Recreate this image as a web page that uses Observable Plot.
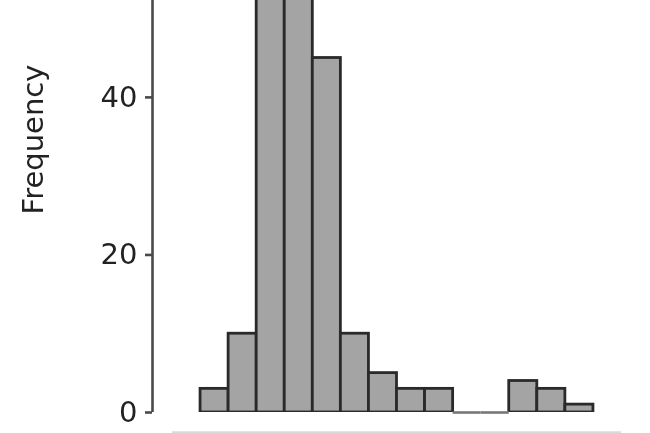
<!DOCTYPE html>
<html>
<head>
<meta charset="utf-8">
<script src="https://cdn.jsdelivr.net/npm/d3@7"></script>
<script src="https://cdn.jsdelivr.net/npm/@observablehq/plot@0.6"></script>
<style>
  html, body { margin: 0; padding: 0; background: #fff; }
  #chart svg { display: block; filter: blur(0.6px); }
</style>
</head>
<body>
<div id="chart"></div>
<script>
// Histogram bins (bin start, bin end) and frequency counts
const binStarts = [0, 1, 2, 3, 4, 5, 6, 7, 8, 9, 10, 11, 12, 13];
const binEnds   = [1, 2, 3, 4, 5, 6, 7, 8, 9, 10, 11, 12, 13, 14];
const counts    = [3, 10, 58, 56, 45, 10, 5, 3, 3, 0, 0, 4, 3, 1];
const yTicks = [0, 20, 40];
const xTicks = [-1, 3, 7, 11, 15];
const yLabel = "Frequency";

const bins = binStarts.map((s, i) => ({x1: s, x2: binEnds[i], count: counts[i]}));
const yTop = 52.3;

const chart = Plot.plot({
  width: 650,
  height: 433,
  marginLeft: 172,
  marginRight: 29,
  marginTop: 0,
  marginBottom: 21,
  style: {fontFamily: "'DejaVu Sans', sans-serif", background: "#fff", color: "#222"},
  x: {domain: [xTicks[0], xTicks[xTicks.length - 1]], axis: null},
  y: {domain: [0, yTop], axis: null},
  marks: [
    Plot.rectY(bins, {x1: "x1", x2: "x2", y: "count", fill: "#a4a4a4", stroke: "#2a2a2a", strokeWidth: 2.8, clip: true}),
    // empty bins drawn as flat lines, as R does
    Plot.ruleY(bins.filter(d => d.count === 0), {x1: "x1", x2: "x2", y: "count", stroke: "#777", strokeWidth: 2.6}),
    // y axis line
    Plot.ruleX([xTicks[0]], {y1: 0, y2: yTop, dx: -20, stroke: "#4a4a4a", strokeWidth: 2.6}),
    Plot.axisY({ticks: yTicks, dx: -20, tickSize: 7, tickPadding: 8, fontSize: 29, stroke: "#4a4a4a", strokeWidth: 2.6, label: null, fill: "#222"}),
    // x axis line (mostly cropped)
    Plot.ruleY([0], {x1: xTicks[0], x2: xTicks[xTicks.length - 1], dy: 20, stroke: "#dadada", strokeWidth: 2.5}),
    Plot.text([yLabel], {frameAnchor: "top-left", dx: -139, dy: 139, rotate: -90, textAnchor: "middle", lineAnchor: "middle", fontSize: 29, fill: "#222"})
  ]
});
document.getElementById("chart").appendChild(chart);
</script>
</body>
</html>
